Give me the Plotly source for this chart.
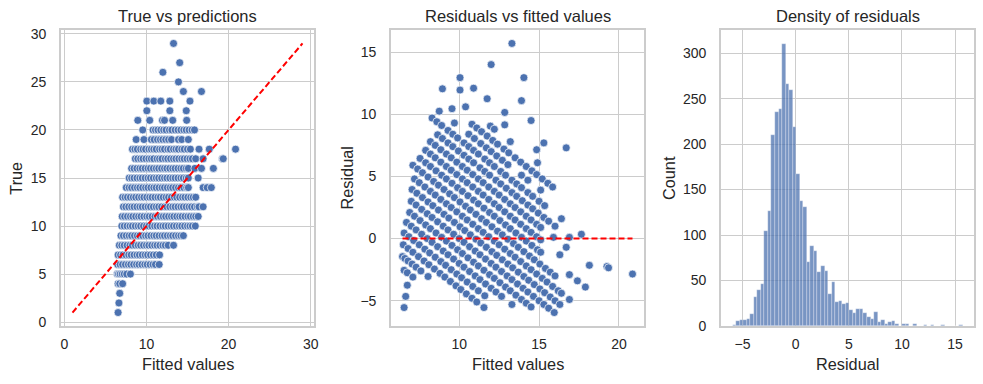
import plotly.graph_objects as go

# ---- scatter data: fitted values grouped by observed (true) value ----
fit_01 = [6.55]
fit_02 = [6.65]
fit_03 = [6.75]
fit_04 = [6.55, 6.75, 7.1]
fit_05 = [6.45, 6.6, 6.8, 7.05, 7.3, 7.6, 8.05]
fit_06 = [6.5, 6.8, 7.1, 7.45, 7.8, 8.1, 8.45, 8.8, 9.1, 9.45, 9.8, 10.1, 10.45, 10.8, 11.1, 11.55]
fit_07 = [6.55, 6.85, 7.15, 7.5, 7.85, 8.15, 8.5, 8.85, 9.15, 9.5, 9.85, 10.15, 10.5, 10.85, 11.2, 11.6]
fit_08 = [6.7, 7.0, 7.3, 7.65, 8.0, 8.3, 8.65, 9.0, 9.3, 9.65, 10.0, 10.3, 10.65, 11.0, 11.3, 11.65,
          12.0, 12.3, 12.65, 13.3]
fit_09 = [6.9, 7.2, 7.55, 7.9, 8.2, 8.55, 8.9, 9.2, 9.55, 9.9, 10.2, 10.55, 10.9, 11.2, 11.55, 11.9,
          12.2, 12.55, 12.9, 13.2, 13.55, 13.9, 14.2, 14.5]
fit_10 = [7.0, 7.3, 7.65, 8.0, 8.3, 8.65, 9.0, 9.3, 9.65, 10.0, 10.3, 10.65, 11.0, 11.3, 11.65, 12.0,
          12.3, 12.65, 13.0, 13.3, 13.65, 14.0, 14.3, 14.65, 15.0, 15.3, 15.6, 15.95]
fit_11 = [7.05, 7.35, 7.7, 8.05, 8.35, 8.7, 9.05, 9.35, 9.7, 10.05, 10.35, 10.7, 11.05, 11.35, 11.7,
          12.05, 12.35, 12.7, 13.05, 13.35, 13.7, 14.05, 14.35, 14.7, 15.05, 15.35, 15.7, 16.0, 16.3]
fit_12 = [7.2, 7.5, 7.85, 8.2, 8.5, 8.85, 9.2, 9.5, 9.85, 10.2, 10.5, 10.85, 11.2, 11.5, 11.85, 12.2,
          12.5, 12.85, 13.2, 13.5, 13.85, 14.2, 14.5, 14.85, 15.2, 15.5, 15.85, 16.2, 16.4, 16.9]
fit_13 = [7.1, 7.4, 7.7, 8.05, 8.4, 8.7, 9.05, 9.4, 9.7, 10.05, 10.4, 10.7, 11.05, 11.4, 11.7, 12.05,
          12.4, 12.7, 13.05, 13.4, 13.7, 14.05, 14.4, 14.7, 15.05, 15.4, 15.7, 16.0]
fit_14 = [7.55, 7.9, 8.2, 8.55, 8.9, 9.2, 9.55, 9.9, 10.2, 10.55, 10.9, 11.2, 11.55, 11.9, 12.2, 12.55,
          12.9, 13.2, 13.55, 13.9, 14.2, 14.55, 14.9, 15.1, 16.9, 17.4, 17.9]
fit_15 = [7.9, 8.2, 8.5, 8.85, 9.2, 9.5, 9.85, 10.2, 10.5, 10.85, 11.2, 11.5, 11.85, 12.2, 12.5, 12.85,
          13.2, 13.5, 13.85, 14.2, 14.5, 14.85, 15.1, 16.3]
fit_16 = [8.2, 8.5, 8.85, 9.2, 9.5, 9.85, 10.2, 10.5, 10.85, 11.2, 11.5, 11.85, 12.2, 12.5, 12.85,
          13.2, 13.5, 13.85, 14.2, 14.5, 14.85, 15.1, 15.9, 16.7, 18.15]
fit_17 = [8.65, 8.95, 9.3, 9.6, 9.95, 10.3, 10.6, 10.9, 11.3, 11.6, 11.9, 12.3, 12.6, 12.95, 13.3,
          13.6, 13.95, 14.3, 14.6, 14.95, 15.3, 15.6, 16.0, 16.9, 19.25, 19.35]
fit_18 = [8.3, 8.6, 8.9, 9.3, 9.6, 9.9, 10.3, 10.6, 10.9, 11.2, 11.6, 11.9, 12.2, 12.6, 12.9, 13.3,
          13.6, 13.9, 14.3, 14.6, 15.0, 15.35, 16.4, 17.65, 20.85]
fit_19 = [8.75, 9.7, 10.6, 10.95, 11.35, 11.7, 12.0, 12.35, 12.7, 13.05, 13.9, 14.3, 15.1]
fit_20 = [9.55, 10.8, 11.1, 11.4, 11.75, 12.1, 12.4, 12.8, 13.1, 13.5, 13.85, 14.2, 14.55, 14.85,
          15.2, 15.55, 15.85]
fit_21 = [8.95, 10.4, 11.95, 12.2, 13.2, 14.9]
fit_22 = [10.05, 12.85, 14.85]
fit_23 = [10.05, 10.9, 11.75, 12.85, 15.3]
fit_24 = [14.5, 16.7]
fit_25 = [13.9]
fit_26 = [12.0]
fit_27 = [14.05]
fit_29 = [13.3]

rows = [(1, fit_01), (2, fit_02), (3, fit_03), (4, fit_04), (5, fit_05), (6, fit_06), (7, fit_07),
        (8, fit_08), (9, fit_09), (10, fit_10), (11, fit_11), (12, fit_12), (13, fit_13),
        (14, fit_14), (15, fit_15), (16, fit_16), (17, fit_17), (18, fit_18), (19, fit_19),
        (20, fit_20), (21, fit_21), (22, fit_22), (23, fit_23), (24, fit_24), (25, fit_25),
        (26, fit_26), (27, fit_27), (29, fit_29)]

fitted = []
observed = []
for t, fs in rows:
    for f in fs:
        fitted.append(f)
        observed.append(t)
residuals = [o - f for o, f in zip(observed, fitted)]

# ---- histogram of residuals: bin counts ----
hist_counts = [1, 6, 7, 7, 8, 13, 32, 40, 46, 104, 126, 210, 235, 239, 310, 266, 260, 219, 167, 138,
               131, 70, 88, 83, 59, 66, 60, 35, 48, 26, 27, 24, 25, 18, 14, 19, 19, 14, 10, 8, 15, 4,
               7, 2, 4, 5, 2, 0, 2, 2, 0, 2, 0, 0, 1, 0, 1, 0, 0, 1, 0, 0, 0, 0, 1]

r_min, r_max = min(residuals), max(residuals)
n_bins = len(hist_counts)
bw = (r_max - r_min) / n_bins
bin_centers = [r_min + (i + 0.5) * bw for i in range(n_bins)]

line_lo, line_hi = min(observed), max(observed)


def padded(lo, hi, frac=0.05):
    d = (hi - lo) * frac
    return [lo - d, hi + d]


BLUE = "#4c72b0"
TXT = "#262626"
GRID = "#cccccc"
FONT = "Liberation Sans, Arial, sans-serif"

fig = go.Figure()

fig.add_trace(go.Scatter(x=fitted, y=observed, mode="markers", xaxis="x", yaxis="y",
                         marker=dict(color=BLUE, size=8, line=dict(color="white", width=0.7)),
                         showlegend=False))
fig.add_trace(go.Scatter(x=[line_lo, line_hi], y=[line_lo, line_hi], mode="lines", xaxis="x", yaxis="y",
                         line=dict(color="red", width=2, dash="6px,3px"), showlegend=False))

fig.add_trace(go.Scatter(x=fitted, y=residuals, mode="markers", xaxis="x2", yaxis="y2",
                         marker=dict(color=BLUE, size=8, line=dict(color="white", width=0.7)),
                         showlegend=False))
fig.add_trace(go.Scatter(x=[min(fitted), max(fitted)], y=[0, 0], mode="lines", xaxis="x2", yaxis="y2",
                         line=dict(color="red", width=2, dash="6px,3px"), showlegend=False))

fig.add_trace(go.Bar(x=bin_centers, y=hist_counts, width=bw, xaxis="x3", yaxis="y3",
                     marker=dict(color=BLUE, opacity=0.75, line=dict(color="rgba(255,255,255,0.6)", width=0.5)),
                     showlegend=False))

W, H = 983, 384
doms = [(61, 314), (391, 644), (721, 974)]
top, bot = 30, 326
ydom = [(H - bot) / H, (H - top) / H]

ax_common = dict(showgrid=True, gridcolor=GRID, gridwidth=1, zeroline=False,
                 showline=True, linecolor=GRID, linewidth=1.6, mirror=True,
                 tickfont=dict(family=FONT, size=14, color=TXT),
                 ticks="outside", tickcolor="rgba(0,0,0,0)", automargin=False)

xr1 = padded(min(min(fitted), line_lo), max(max(fitted), line_hi))
yr1 = padded(min(min(observed), line_lo), max(max(observed), line_hi))
xr2 = padded(min(fitted), max(fitted))
yr2 = padded(min(residuals), max(residuals))
xr3 = padded(r_min, r_max)
yr3 = [0, max(hist_counts) * 1.05]

layout = dict(
    width=W, height=H, margin=dict(l=0, r=0, t=0, b=0),
    paper_bgcolor="white", plot_bgcolor="white",
    font=dict(family=FONT, color=TXT),
    bargap=0,
    xaxis=dict(domain=[doms[0][0] / W, doms[0][1] / W], range=xr1, tickvals=[0, 10, 20, 30],
               anchor="y", ticklen=4, **ax_common),
    yaxis=dict(domain=ydom, range=yr1, tickvals=[0, 5, 10, 15, 20, 25, 30], anchor="x",
               ticklen=10, **ax_common),
    xaxis2=dict(domain=[doms[1][0] / W, doms[1][1] / W], range=xr2, tickvals=[10, 15, 20],
                anchor="y2", ticklen=4, **ax_common),
    yaxis2=dict(domain=ydom, range=yr2, tickvals=[-5, 0, 5, 10, 15], ticktext=["\u22125", "0", "5", "10", "15"],
                anchor="x2", ticklen=10, **ax_common),
    xaxis3=dict(domain=[doms[2][0] / W, doms[2][1] / W], range=xr3, tickvals=[-5, 0, 5, 10, 15],
                ticktext=["\u22125", "0", "5", "10", "15"], anchor="y3", ticklen=4, **ax_common),
    yaxis3=dict(domain=ydom, range=yr3, tickvals=[0, 50, 100, 150, 200, 250, 300], anchor="x3",
                ticklen=10, **ax_common),
)
fig.update_layout(**layout)

titles = ["True vs predictions", "Residuals vs fitted values", "Density of residuals"]
xlabels = ["Fitted values", "Fitted values", "Residual"]
ylabels = ["True", "Residual", "Count"]
ylab_x = [15.7, 346.5, 669]
anns = []
for i in range(3):
    cx = (doms[i][0] + doms[i][1]) / 2 / W
    anns.append(dict(text=titles[i], x=cx, y=1 - 16 / H, xref="paper", yref="paper",
                     xanchor="center", yanchor="middle", showarrow=False,
                     font=dict(family=FONT, size=16.5, color=TXT)))
    anns.append(dict(text=xlabels[i], x=cx, y=1 - 364 / H, xref="paper", yref="paper",
                     xanchor="center", yanchor="middle", showarrow=False,
                     font=dict(family=FONT, size=16.3, color=TXT)))
    anns.append(dict(text=ylabels[i], x=ylab_x[i] / W, y=1 - 178 / H, xref="paper", yref="paper",
                     xanchor="center", yanchor="middle", showarrow=False, textangle=-90,
                     font=dict(family=FONT, size=16.3, color=TXT)))
fig.update_layout(annotations=anns)

fig.write_html("out.html", config={"displayModeBar": False},
               post_script="document.body.style.margin='0px';document.body.style.overflow='hidden';")
